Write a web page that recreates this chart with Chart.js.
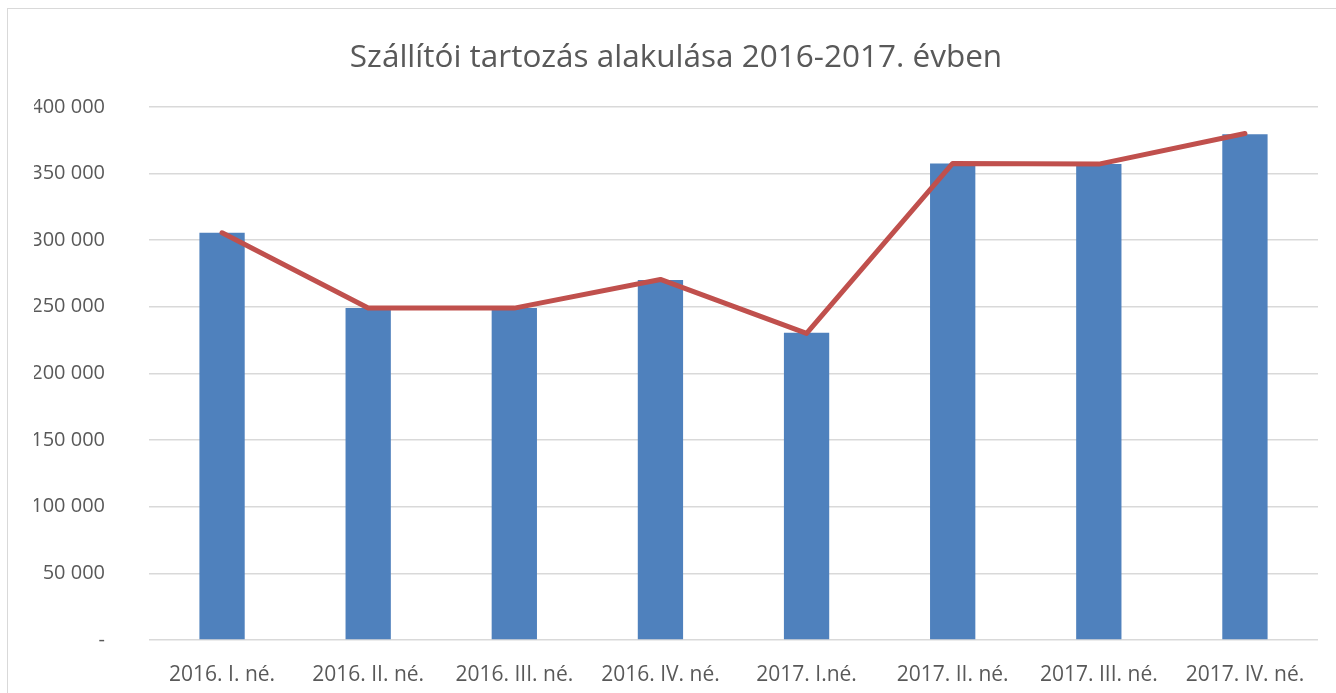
<!DOCTYPE html>
<html>
<head>
<meta charset="utf-8">
<script src="https://cdn.jsdelivr.net/npm/chart.js@4.4.1/dist/chart.umd.min.js"></script>
<style>
  html, body { margin: 0; padding: 0; background: #ffffff; overflow: hidden; }
  #frame { position: absolute; left: 7px; top: 8px; width: 1400px; height: 800px; border: 1px solid #d9d9d9; box-sizing: border-box; }
  #wrap { position: absolute; left: 0; top: 0; width: 1336px; height: 693px; }
</style>
</head>
<body>
<div id="frame"></div>
<div id="wrap"><canvas id="c" width="1336" height="693"></canvas></div>
<script>
const categories = ["2016. I. né.", "2016. II. né.", "2016. III. né.", "2016. IV. né.", "2017. I.né.", "2017. II. né.", "2017. III. né.", "2017. IV. né."];
const barValues = [305500, 249000, 249000, 270000, 230500, 357500, 357000, 379500];
const lineValues = [305500, 249000, 249000, 270500, 230000, 357500, 357000, 380000];
const yTicks = [0, 50000, 100000, 150000, 200000, 250000, 300000, 350000, 400000];
const titleText = "Szállítói tartozás alakulása 2016-2017. évben";

function fmt(v) {
  if (v === 0) return "-";
  return String(v).replace(/\B(?=(\d{3})+(?!\d))/g, " ");
}

new Chart(document.getElementById('c'), {
  data: {
    labels: categories,
    datasets: [
      {
        type: 'line',
        data: lineValues,
        borderColor: '#C0504D',
        borderWidth: 5,
        pointRadius: 0,
        tension: 0,
        borderCapStyle: 'round',
        borderJoinStyle: 'round',
        order: 0
      },
      {
        type: 'bar',
        data: barValues,
        backgroundColor: '#4F81BD',
        categoryPercentage: 1,
        barPercentage: 0.31,
        order: 1
      }
    ]
  },
  options: {
    responsive: false,
    animation: false,
    layout: { padding: { left: 34, right: 18, top: 0, bottom: 0 } },
    plugins: {
      legend: { display: false },
      tooltip: { enabled: false },
      title: {
        display: true,
        text: titleText,
        color: '#595959',
        font: { family: 'Open Sans', size: 31.5, weight: 'normal' },
        padding: { top: 39, bottom: 30 }
      }
    },
    scales: {
      x: {
        grid: { display: false },
        border: { display: false },
        ticks: {
          color: '#595959',
          font: { family: 'Open Sans', size: 21 },
          padding: 14,
          maxRotation: 0
        },
        afterFit: (s) => { s.height = 53; }
      },
      y: {
        min: 0,
        max: 400000,
        afterBuildTicks: (s) => { s.ticks = yTicks.map(v => ({ value: v })); },
        grid: { color: '#d9d9d9', lineWidth: 1.5, drawTicks: true, tickLength: 44, tickColor: 'rgba(0,0,0,0)' },
        border: { display: false },
        ticks: {
          color: '#595959',
          font: { family: 'Open Sans', size: 20 },
          padding: 0,
          callback: (v) => fmt(v)
        },
        afterFit: (s) => { s.width = 115; }
      }
    }
  }
});
</script>
</body>
</html>
